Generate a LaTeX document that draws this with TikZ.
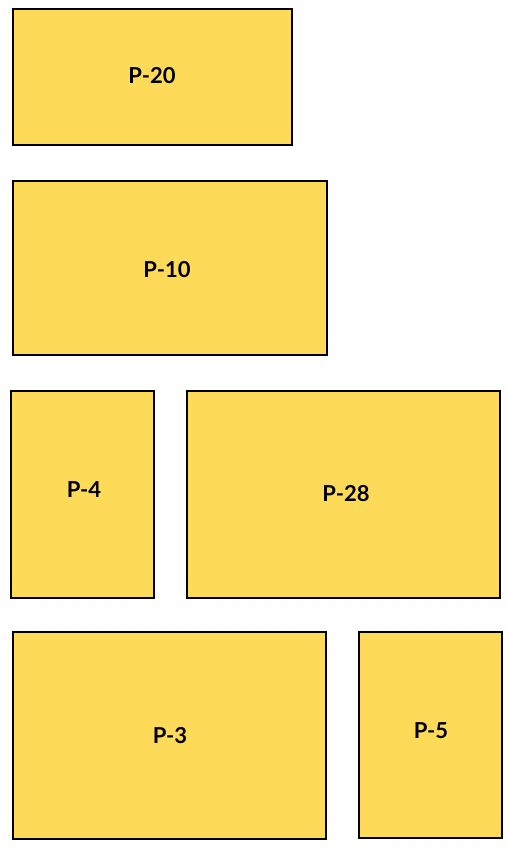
\documentclass[tikz,border=0pt]{standalone}
\usepackage{fontspec}
\setmainfont{Lato}
\definecolor{boxyellow}{RGB}{253,219,89}
\tikzset{
  part/.style={draw=black, fill=boxyellow, line width=2.8pt},
  lbl/.style={font=\fontsize{22}{26}\selectfont\bfseries, inner sep=0pt}
}
\begin{document}
\begin{tikzpicture}[x=1pt,y=-1pt]
\useasboundingbox (0,0) rectangle (507,849);
\draw[part] (13,9) rectangle (292,145);
\node[lbl] (p20) at (152,76) {P-20};
\draw[part] (13,181) rectangle (327,355);
\node[lbl] (p10) at (167,270) {P-10};
\draw[part] (11,391) rectangle (154,598);
\node[lbl] (p4) at (84,490) {P-4};
\draw[part] (187,391) rectangle (500,598);
\node[lbl] (p28) at (346,494) {P-28};
\draw[part] (13,632) rectangle (326,839);
\node[lbl] (p3) at (170,736) {P-3};
\draw[part] (359,632) rectangle (502,838);
\node[lbl] (p5) at (431,731) {P-5};
\end{tikzpicture}
\end{document}
